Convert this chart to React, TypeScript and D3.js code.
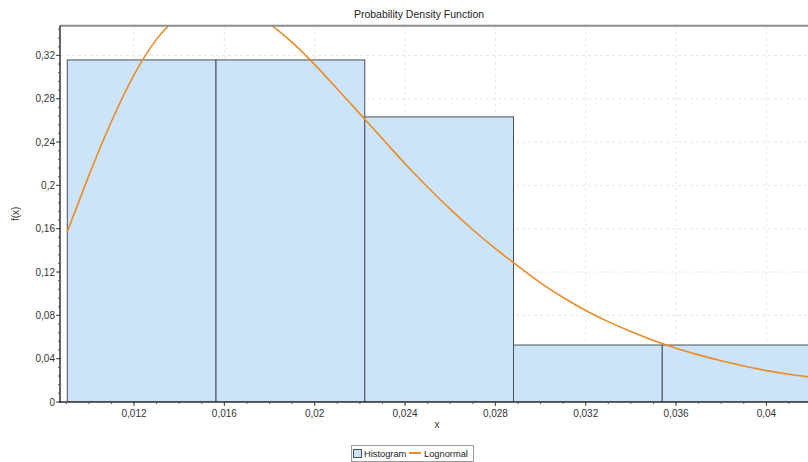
import React from "react";
import * as d3 from "d3";

// Histogram bins (relative frequency per bin)
const binEdges = [0.009044, 0.01563, 0.022216, 0.028802, 0.035388, 0.041974];
const binFreq = [0.3158, 0.3158, 0.2632, 0.0526, 0.0526];

// Fitted lognormal density, sampled along x
const curveX = [
  0.00904, 0.0095, 0.01, 0.011, 0.012, 0.013, 0.014, 0.015, 0.016, 0.017, 0.018, 0.019,
  0.02, 0.021, 0.022, 0.023, 0.024, 0.025, 0.026, 0.027, 0.028, 0.029, 0.03, 0.031,
  0.032, 0.033, 0.034, 0.035, 0.036, 0.037, 0.038, 0.039, 0.04, 0.041, 0.042, 0.043,
];
const curveY = [
  0.157, 0.182, 0.209, 0.259, 0.302, 0.335, 0.356, 0.367, 0.369, 0.362, 0.349, 0.332,
  0.3115, 0.289, 0.266, 0.243, 0.22, 0.1985, 0.178, 0.159, 0.1415, 0.1255, 0.11, 0.0965,
  0.0845, 0.0742, 0.065, 0.0568, 0.0497, 0.0435, 0.038, 0.0332, 0.029, 0.0256, 0.0228, 0.0203,
];

const xTicks = [0.012, 0.016, 0.02, 0.024, 0.028, 0.032, 0.036, 0.04];
const yTicks = [0, 0.04, 0.08, 0.12, 0.16, 0.2, 0.24, 0.28, 0.32];

const W = 808;
const H = 462;
const plot = { left: 60, right: 817, top: 25.7, bottom: 402 };
const font = "'Liberation Sans', Arial, sans-serif";

const fmt = (v: number) => {
  const s = String(+v.toFixed(4));
  return s.replace(".", ",");
};

export default function App() {
  const x = d3.scaleLinear().domain([0.008722, 0.04224]).range([plot.left, plot.right]);
  const y = d3.scaleLinear().domain([0, 0.3474]).range([plot.bottom, plot.top]);

  const xMinor = d3.range(9, 43).map((i) => i / 1000).filter((v) => x(v) >= plot.left && x(v) <= W);
  const yMinor = d3.range(0, 44).map((i) => i * 0.008).filter((v) => y(v) >= plot.top);

  const line = d3
    .line<number>()
    .x((_, i) => x(curveX[i]))
    .y((d) => y(d))
    .curve(d3.curveMonotoneX);

  const bins = binFreq.map((f, i) => ({ x0: binEdges[i], x1: binEdges[i + 1], f }));

  return (
    <svg
      width={W}
      height={H}
      style={{ position: "absolute", left: 0, top: 0, background: "#fff" }}
      fontFamily={font}
    >
      <defs>
        <clipPath id="plotClip">
          <rect x={plot.left} y={plot.top} width={plot.right - plot.left} height={plot.bottom - plot.top} />
        </clipPath>
      </defs>
      <rect x={0} y={0} width={W} height={H} fill="#fff" />

      <text x={419} y={18} textAnchor="middle" fontSize={10.5} fill="#222">
        Probability Density Function
      </text>

      {/* grid */}
      <g stroke="#e6e6e6" strokeDasharray="3,3" strokeWidth={1}>
        {xTicks.map((t) => (
          <line key={"gx" + t} x1={x(t)} x2={x(t)} y1={plot.top} y2={plot.bottom} />
        ))}
        {yTicks.map((t) => (
          <line key={"gy" + t} x1={plot.left} x2={plot.right} y1={y(t)} y2={y(t)} />
        ))}
      </g>

      {/* histogram bars and density curve */}
      <g clipPath="url(#plotClip)">
        {bins.map((b, i) => (
          <rect
            key={"b" + i}
            x={x(b.x0)}
            y={y(b.f)}
            width={x(b.x1) - x(b.x0)}
            height={y(0) - y(b.f)}
            fill="#cce4fa"
            stroke="#4a4f57"
            strokeWidth={1}
          />
        ))}
        <path d={line(curveY) || ""} fill="none" stroke="#ec8a25" strokeWidth={1.6} />
      </g>

      {/* top border */}
      <line x1={plot.left} x2={W} y1={plot.top} y2={plot.top} stroke="#8c8c8c" strokeWidth={2} />

      {/* y axis */}
      <line x1={plot.left} x2={plot.left} y1={plot.top} y2={plot.bottom + 1} stroke="#333" strokeWidth={1.5} />
      {yMinor.map((v) => (
        <line key={"ym" + v} x1={plot.left - 2} x2={plot.left} y1={y(v)} y2={y(v)} stroke="#555" strokeWidth={1} />
      ))}
      {yTicks.map((t) => (
        <g key={"yt" + t}>
          <line x1={plot.left - 4} x2={plot.left} y1={y(t)} y2={y(t)} stroke="#444" strokeWidth={1} />
          <text x={plot.left - 5} y={y(t) + 3.5} textAnchor="end" fontSize={10} fill="#333">
            {fmt(t)}
          </text>
        </g>
      ))}
      <text
        transform={`translate(19,${(plot.top + plot.bottom) / 2}) rotate(-90)`}
        textAnchor="middle"
        fontSize={10}
        fill="#333"
      >
        f(x)
      </text>

      {/* x axis */}
      <line x1={plot.left - 1} x2={W} y1={plot.bottom} y2={plot.bottom} stroke="#333" strokeWidth={1.5} />
      {xMinor.map((v) => (
        <line key={"xm" + v} x1={x(v)} x2={x(v)} y1={plot.bottom} y2={plot.bottom + 2} stroke="#555" strokeWidth={1} />
      ))}
      {xTicks.map((t) => (
        <g key={"xt" + t}>
          <line x1={x(t)} x2={x(t)} y1={plot.bottom} y2={plot.bottom + 4} stroke="#444" strokeWidth={1} />
          <text x={x(t)} y={plot.bottom + 15} textAnchor="middle" fontSize={10} fill="#333">
            {fmt(t)}
          </text>
        </g>
      ))}
      <text x={437} y={428} textAnchor="middle" fontSize={10} fill="#333">
        x
      </text>

      {/* legend */}
      <g>
        <rect x={351.5} y={445.5} width={122} height={16} fill="#fff" stroke="#9a9a9a" strokeWidth={1} />
        <rect x={353.5} y={449.5} width={8} height={8} fill="#cce4fa" stroke="#4a4f57" strokeWidth={1} />
        <text x={364} y={457} fontSize={9.3} fill="#222">
          Histogram
        </text>
        <line x1={409} x2={421} y1={453} y2={453} stroke="#ec8a25" strokeWidth={2} />
        <text x={424} y={457} fontSize={9.3} fill="#222">
          Lognormal
        </text>
      </g>
    </svg>
  );
}
